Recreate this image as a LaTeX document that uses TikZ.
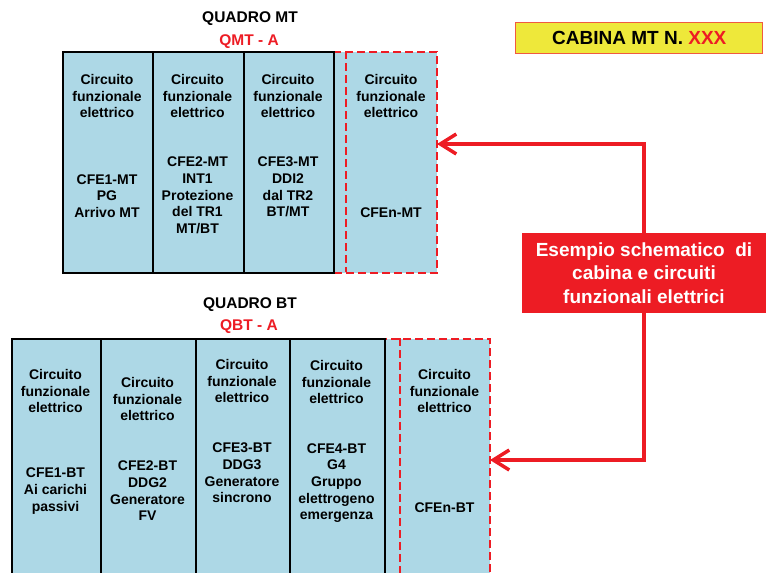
\documentclass[tikz,border=0pt]{standalone}
\usepackage{fontspec}
\setmainfont{Liberation Sans}
\usetikzlibrary{arrows.meta,positioning}
\definecolor{CellBlue}{HTML}{ADD8E6}
\definecolor{AlertRed}{HTML}{ED1C24}
\definecolor{TagYellow}{HTML}{EEE83A}
\definecolor{TagEdge}{HTML}{F05A40}

\begin{document}
\begin{tikzpicture}[x=1pt,y=-1pt,
  cell/.style={draw=black, fill=CellBlue, line width=1.6pt, anchor=north west,
               inner sep=0pt},
  spare/.style={draw=AlertRed, line width=2pt, dash pattern=on 8pt off 4pt,
                anchor=north west, inner sep=0pt},
  txt/.style={font=\bfseries\fontsize{14}{16.7}\selectfont, align=center, inner sep=0pt},
  head/.style={font=\bfseries\fontsize{15.5}{18}\selectfont, inner sep=0pt},
  link/.style={draw=AlertRed, line width=3.5pt,
               -{Straight Barb[length=16pt,width=20pt]}}]
  \useasboundingbox (0,0) rectangle (766,573);
  \clip (0,0) rectangle (766,573);

  \node[cell, draw=none, fill=none, minimum width=247pt, minimum height=31pt] (cabina) at (515,22) {};
  \node[draw=TagEdge, fill=TagYellow, line width=1pt, minimum width=247pt,
        minimum height=31pt, font=\bfseries\fontsize{19}{21}\selectfont]
        (tag) at (cabina.center) {CABINA MT N. \textcolor{AlertRed}{XXX}};

  \node[head] (qmt) at (250,19) {QUADRO MT};
  \node[head, text=AlertRed] (qmtid) at (249,42) {QMT - A};
  \node[spare, fill=CellBlue, minimum width=103pt, minimum height=221pt] (mtx) at (333,51) {};
  \node[inner sep=0pt, anchor=north west, minimum width=90pt, minimum height=221pt] (mtn) at (346,51) {};
  \draw[spare] (mtn.north west) -- (mtn.south west);
  \node[cell, minimum width=90pt, minimum height=221pt] (mt1) at (62,51) {};
  \node[cell, minimum width=91pt, minimum height=221pt] (mt2) at (152,51) {};
  \node[cell, minimum width=90pt, minimum height=221pt] (mt3) at (243,51) {};

  \node[txt] (mt1a) at (107,96) {Circuito\\funzionale\\elettrico};
  \node[txt] (mt1b) at (107,196) {CFE1-MT\\PG\\Arrivo MT};
  \node[txt] (mt2a) at (197.5,96) {Circuito\\funzionale\\elettrico};
  \node[txt] (mt2b) at (197.5,195.5) {CFE2-MT\\INT1\\Protezione\\del TR1\\MT/BT};
  \node[txt] (mt3a) at (288,96) {Circuito\\funzionale\\elettrico};
  \node[txt] (mt3b) at (288,187) {CFE3-MT\\DDI2\\dal TR2\\BT/MT};
  \node[txt] (mtna) at (391,96) {Circuito\\funzionale\\elettrico};
  \node[txt] (mtnb) at (391,213) {CFEn-MT};

  \node[head] (qbt) at (250,305) {QUADRO BT};
  \node[head, text=AlertRed] (qbtid) at (249,327) {QBT - A};
  \node[spare, fill=CellBlue, minimum width=105pt, minimum height=260pt] (btx) at (384,338) {};
  \node[inner sep=0pt, anchor=north west, minimum width=89pt, minimum height=260pt] (btn) at (400,338) {};
  \draw[spare] (btn.north west) -- (btn.south west);
  \node[cell, minimum width=89pt, minimum height=260pt] (bt1) at (11,338) {};
  \node[cell, minimum width=95pt, minimum height=260pt] (bt2) at (100,338) {};
  \node[cell, minimum width=94pt, minimum height=260pt] (bt3) at (195,338) {};
  \node[cell, minimum width=95pt, minimum height=260pt] (bt4) at (289,338) {};

  \node[txt] (bt1a) at (55.5,391) {Circuito\\funzionale\\elettrico};
  \node[txt] (bt1b) at (55.5,491) {CFE1-BT\\Ai carichi\\passivi};
  \node[txt] (bt2a) at (147.5,399) {Circuito\\funzionale\\elettrico};
  \node[txt] (bt2b) at (147.5,491) {CFE2-BT\\DDG2\\Generatore\\FV};
  \node[txt] (bt3a) at (242,381) {Circuito\\funzionale\\elettrico};
  \node[txt] (bt3b) at (242,473) {CFE3-BT\\DDG3\\Generatore\\sincrono};
  \node[txt] (bt4a) at (336.5,382) {Circuito\\funzionale\\elettrico};
  \node[txt] (bt4b) at (336.5,483) {CFE4-BT\\G4\\Gruppo\\elettrogeno\\emergenza};
  \node[txt] (btna) at (444.5,391) {Circuito\\funzionale\\elettrico};
  \node[txt] (btnb) at (444.5,508) {CFEn-BT};

  \node[fill=AlertRed, minimum width=244pt, minimum height=80pt, text=white,
        font=\bfseries\fontsize{19}{23.5}\selectfont, align=center]
        (note) at (644,273) {Esempio schematico~ di\\cabina e circuiti\\funzionali elettrici};
  \coordinate (mtin) at (437,144);
  \coordinate (btin) at (490,460);
  \draw[link] (note.north) |- (mtin);
  \draw[link] (note.south) |- (btin);
\end{tikzpicture}
\end{document}
